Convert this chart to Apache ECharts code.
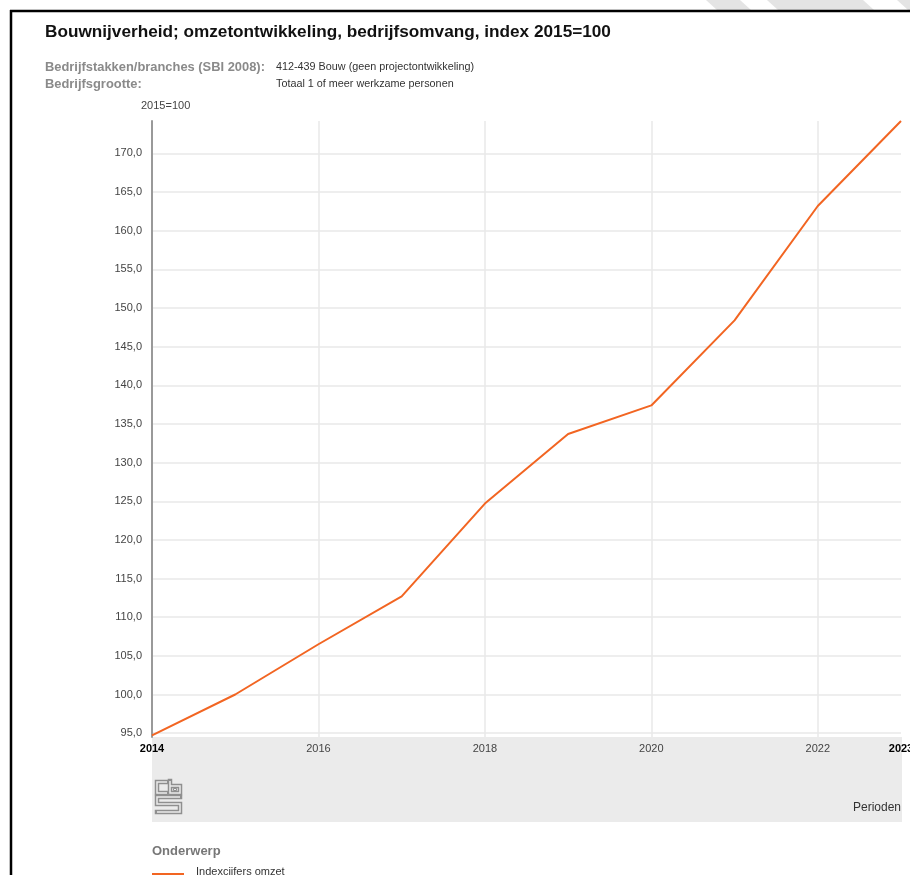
<!DOCTYPE html>
<html>
<head>
<meta charset="utf-8">
<script src="https://cdn.jsdelivr.net/npm/echarts@6/dist/echarts.min.js"></script>
<style>
html,body{margin:0;padding:0;background:#fff;}
#c{width:910px;height:875px;}
</style>
</head>
<body>
<div id="c"></div>
<script>
// ---- data ----
const years = [2014, 2015, 2016, 2017, 2018, 2019, 2020, 2021, 2022, 2023];
const indexOmzet = [94.7, 100.0, 106.5, 112.7, 124.7, 133.7, 137.4, 148.4, 163.2, 174.2];
const yTicks = [95, 100, 105, 110, 115, 120, 125, 130, 135, 140, 145, 150, 155, 160, 165, 170];
const xGridTicks = [2014, 2016, 2018, 2020, 2022];
const xLabelTicks = [2014, 2016, 2018, 2020, 2022, 2023];
const seriesName = 'Indexcijfers omzet';
const titleText = 'Bouwnijverheid; omzetontwikkeling, bedrijfsomvang, index 2015=100';
const filterLabels = ['Bedrijfstakken/branches (SBI 2008):', 'Bedrijfsgrootte:'];
const filterValues = ['412-439 Bouw (geen projectontwikkeling)', 'Totaal 1 of meer werkzame personen'];
const yUnit = '2015=100';
const xName = 'Perioden';
const legendTitle = 'Onderwerp';

const FONT = '"Liberation Sans", Arial, sans-serif';
const chart = echarts.init(document.getElementById('c'), null, {renderer: 'canvas'});

const GX = 152, GY = 121, GW = 749, GH = 616;

function logo(x, y) {
  const paths = [
    [[x+10,y],[x,y],[x,y+11],[x+10,y+11]],
    [[x+13,y-1],[x+13,y+11],[x+23,y+11],[x+23,y+4],[x+13,y+4]],
    [[x+23,y+15],[x,y+15],[x,y+22],[x+23,y+22],[x+23,y+30],[x,y+30]]
  ];
  const els = [];
  paths.forEach(p => {
    els.push({type:'polyline', shape:{points:p}, style:{stroke:'#8f8f8f', lineWidth:4.5, fill:null, lineJoin:'miter', lineCap:'square'}, z:1});
    els.push({type:'polyline', shape:{points:p}, style:{stroke:'#ebebeb', lineWidth:1.5, fill:null, lineJoin:'miter', lineCap:'butt'}, z:2});
  });
  els.push({type:'rect', shape:{x:x+16.5, y:y+6.5, width:3, height:2}, style:{fill:null, stroke:'#8f8f8f', lineWidth:1}, z:3});
  return els;
}

const graphics = [
  // top-right stripes
  {type:'polygon', shape:{points:[[706,0],[740,0],[751,10],[717,10]]}, style:{fill:'#e4e4e4', stroke:'none', lineWidth:0}},
  {type:'polygon', shape:{points:[[767,0],[863,0],[874,10],[778,10]]}, style:{fill:'#e4e4e4', stroke:'none', lineWidth:0}},
  {type:'polygon', shape:{points:[[897,0],[915,0],[915,10],[908,10]]}, style:{fill:'#e4e4e4', stroke:'none', lineWidth:0}},
  // border
  {type:'line', shape:{x1:10, y1:11, x2:910, y2:11}, style:{stroke:'#000', lineWidth:2.5}},
  {type:'line', shape:{x1:11, y1:10, x2:11, y2:875}, style:{stroke:'#000', lineWidth:2.5}},
  // title
  {type:'text', x:45, y:32, style:{text:titleText, font:'bold 17.2px ' + FONT, fill:'#111', textVerticalAlign:'middle'}},
  {type:'text', x:45, y:67, style:{text:filterLabels[0], font:'bold 12.9px ' + FONT, fill:'#8a8a8a', textVerticalAlign:'middle'}},
  {type:'text', x:45, y:84, style:{text:filterLabels[1], font:'bold 12.9px ' + FONT, fill:'#8a8a8a', textVerticalAlign:'middle'}},
  {type:'text', x:276, y:67, style:{text:filterValues[0], font:'10.8px ' + FONT, fill:'#333', textVerticalAlign:'middle'}},
  {type:'text', x:276, y:84, style:{text:filterValues[1], font:'10.8px ' + FONT, fill:'#333', textVerticalAlign:'middle'}},
  {type:'text', x:141, y:106, style:{text:yUnit, font:'11px ' + FONT, fill:'#444', textVerticalAlign:'middle'}},
  // grey band under axis
  {type:'rect', shape:{x:GX, y:GY+GH, width:GW+1, height:85}, style:{fill:'#ebebeb'}, z:-10},
  {type:'text', x:GX+GW, y:808, style:{text:xName, font:'12px ' + FONT, fill:'#333', textAlign:'right', textVerticalAlign:'middle'}},
  // legend area
  {type:'text', x:152, y:851, style:{text:legendTitle, font:'bold 13px ' + FONT, fill:'#777', textVerticalAlign:'middle'}},
  {type:'line', shape:{x1:152, y1:874, x2:184, y2:874}, style:{stroke:'#f26522', lineWidth:2}},
  {type:'text', x:196, y:872, style:{text:seriesName, font:'11px ' + FONT, fill:'#333', textVerticalAlign:'middle'}}
].concat(logo(157, 782));

const option = {
  animation: false,
  backgroundColor: '#fff',
  grid: {left: GX, top: GY, width: GW, height: GH, containLabel: false, outerBoundsMode: 'none'},
  xAxis: {
    type: 'value', min: years[0], max: years[years.length - 1],
    axisLine: {show: false},
    axisTick: {show: false, customValues: xGridTicks},
    splitLine: {show: true, lineStyle: {color: '#e8e8e8', width: 1.5}},
    axisLabel: {
      customValues: xLabelTicks,
      margin: 6, fontSize: 11, fontFamily: FONT, color: '#444',
      formatter: v => (v === years[0] || v === years[years.length - 1]) ? '{b|' + v + '}' : String(v),
      rich: {b: {fontWeight: 'bold', color: '#000', fontSize: 11, fontFamily: FONT}}
    }
  },
  yAxis: {
    type: 'value', min: 94.5, max: 174.2,
    axisLine: {show: true, lineStyle: {color: '#999', width: 2}},
    axisTick: {show: false, customValues: yTicks},
    splitLine: {show: true, lineStyle: {color: '#e8e8e8', width: 1.5}},
    axisLabel: {
      customValues: yTicks,
      margin: 10, fontSize: 11, fontFamily: FONT, color: '#444',
      formatter: v => v.toFixed(1).replace('.', ',')
    }
  },
  series: [{
    name: seriesName, type: 'line', symbol: 'none',
    data: years.map((y, i) => [y, indexOmzet[i]]),
    lineStyle: {color: '#f26522', width: 2},
    itemStyle: {color: '#f26522'}
  }],
  graphic: graphics
};
chart.setOption(option);
</script>
</body>
</html>
